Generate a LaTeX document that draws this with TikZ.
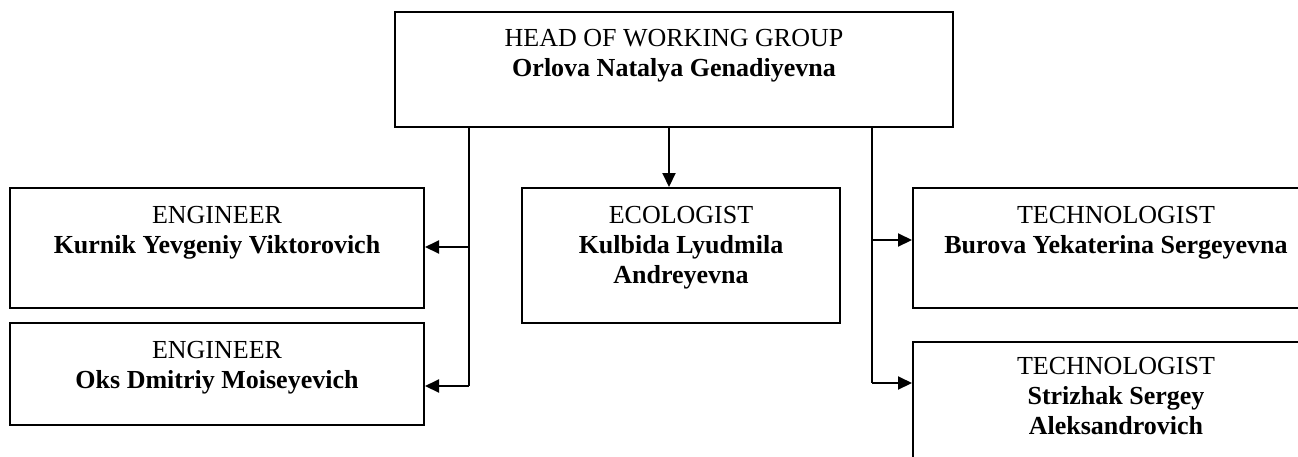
\documentclass[tikz,border=0pt]{standalone}
\usepackage{fontspec}
\setmainfont{Liberation Serif}
\usetikzlibrary{arrows.meta,calc}
\tikzset{
  box/.style={draw=black, line width=2pt, rectangle, inner sep=0pt, fill=white},
  lbl/.style={align=center, inner sep=0pt, anchor=north, font=\fontsize{26}{30}\selectfont},
  conn/.style={draw=black, line width=2pt},
  arr/.style={conn, -{Triangle[length=14pt,width=13pt]}}
}
\begin{document}
\begin{tikzpicture}[x=1pt,y=-1pt]
\useasboundingbox (0,0) rectangle (1298,456);
\clip (0,0) rectangle (1298,456);
\fill[white] (0,0) rectangle (1298,456);
% boxes
\node[box, minimum width=558pt, minimum height=115pt] (head) at (674,69.5) {};
\node[box, minimum width=414pt, minimum height=120pt] (eng1) at (217,248) {};
\node[box, minimum width=414pt, minimum height=102pt] (eng2) at (217,374) {};
\node[box, minimum width=318pt, minimum height=135pt] (eco) at (681,255.5) {};
\node[box, minimum width=406pt, minimum height=120pt] (tech1) at (1116,248) {};
\node[box, minimum width=406pt, minimum height=128pt] (tech2) at (1116,406) {};
% texts
\node[lbl] (headt) at ([yshift=-18pt]head.north) {HEAD OF WORKING GROUP\\\textbf{Orlova Natalya Genadiyevna}};
\node[lbl] (eng1t) at ([yshift=-19pt]eng1.north) {ENGINEER\\\textbf{Kurnik Yevgeniy Viktorovich}};
\node[lbl] (eng2t) at ([yshift=-19pt]eng2.north) {ENGINEER\\\textbf{Oks Dmitriy Moiseyevich}};
\node[lbl] (ecot) at ([yshift=-19pt]eco.north) {ECOLOGIST\\\textbf{Kulbida Lyudmila}\\\textbf{Andreyevna}};
\node[lbl] (tech1t) at ([yshift=-19pt]tech1.north) {TECHNOLOGIST\\\textbf{Burova Yekaterina Sergeyevna}};
\node[lbl] (tech2t) at ([yshift=-16pt]tech2.north) {TECHNOLOGIST\\\textbf{Strizhak Sergey}\\\textbf{Aleksandrovich}};
% connector coordinates
\coordinate (lt) at (469,127);
\coordinate (l1) at (469,247);
\coordinate (l2) at (469,386);
\coordinate (mt) at (669,127);
\coordinate (rt) at (872,127);
\coordinate (r1) at (872,240);
\coordinate (r2) at (872,383);
% connectors
\draw[conn] (lt) -- (l2);
\draw[arr] (l1) -- (l1 -| eng1.east);
\draw[arr] (l2) -- (l2 -| eng2.east);
\draw[arr] (mt) -- (mt |- eco.north);
\draw[conn] (rt) -- (r2);
\draw[arr] (r1) -- (r1 -| tech1.west);
\draw[arr] (r2) -- (r2 -| tech2.west);
\end{tikzpicture}
\end{document}
